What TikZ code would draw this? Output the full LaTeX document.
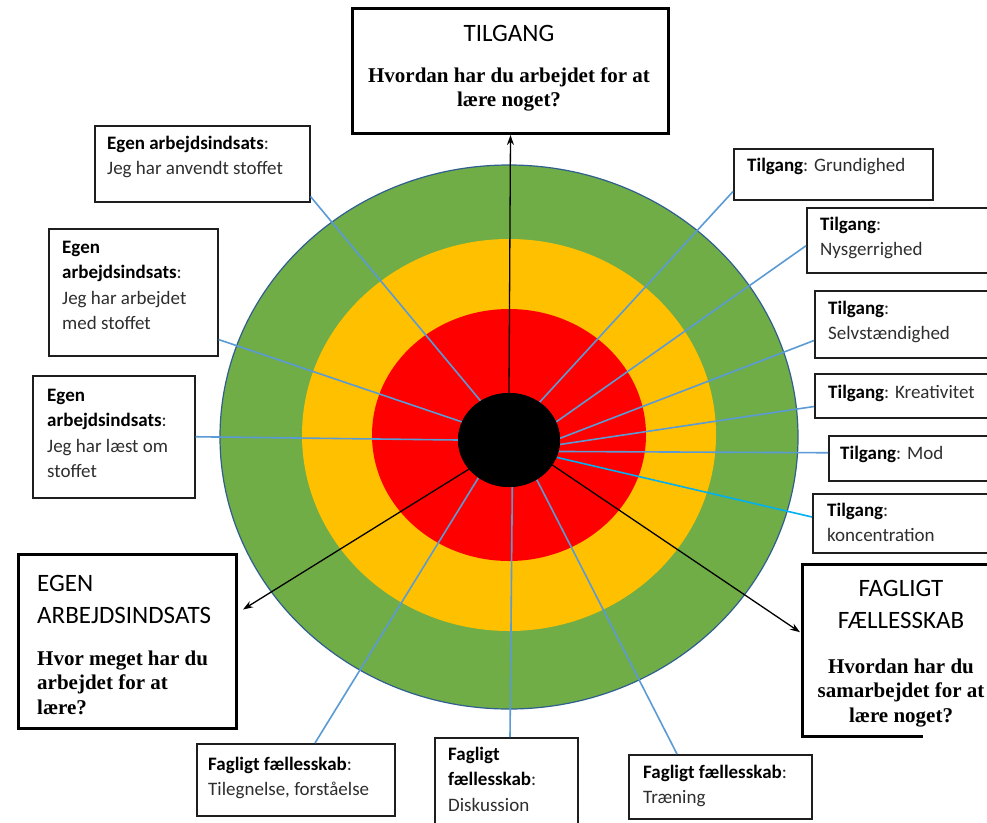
\documentclass[tikz,border=0pt]{standalone}
\usepackage{fontspec}
\setmainfont{Carlito}
\newfontfamily\serifbf{Liberation Serif}
\usetikzlibrary{arrows.meta,shapes.geometric}
\definecolor{ringgreen}{HTML}{70AD47}
\definecolor{ringyellow}{HTML}{FFC000}
\definecolor{ringred}{HTML}{FF0000}
\definecolor{ringedge}{HTML}{2F5F8F}
\definecolor{lineblue}{HTML}{5B9BD5}
\definecolor{linecyan}{HTML}{00B0F0}
\definecolor{txtgray}{HTML}{2E2E2E}
\definecolor{boxgray}{HTML}{1E1E1E}
\newcommand\bk[1]{\textcolor{black}{\bfseries #1}}
\newcommand\tl[1]{\begin{tabular}[t]{@{}l@{}}#1\end{tabular}}
\newcommand\tc[1]{\begin{tabular}[t]{@{}c@{}}#1\end{tabular}}
\tikzset{
  sbox/.style={draw=boxgray, line width=1.5pt, fill=white, inner sep=0pt, anchor=north west},
  bbox/.style={draw=black, line width=3pt, fill=white, inner sep=0pt, anchor=north west},
  stxt/.style={anchor=base west, inner sep=0pt, font=\fontsize{19}{25.5}\selectfont, text=txtgray},
  htxt/.style={inner sep=0pt, font=\fontsize{25}{32}\selectfont, text=black},
  qtxt/.style={inner sep=0pt, font=\serifbf\bfseries\fontsize{21}{24.5}\selectfont, text=black},
  conn/.style={draw=lineblue, line width=1.6pt},
  arr/.style={draw=black, line width=1.3pt, -{Stealth[length=10pt,width=7pt]}},
}
\begin{document}
\begin{tikzpicture}[x=1pt,y=-1pt]
\clip (0,0) rectangle (987,822);
\fill[white] (0,0) rectangle (987,822);
% rings
\filldraw[fill=ringgreen, draw=ringedge, line width=1.2pt] (509,437) ellipse [x radius=289pt, y radius=272pt];
\fill[ringyellow] (509,435) ellipse [x radius=207pt, y radius=196pt];
\fill[ringred] (509,435) ellipse [x radius=137pt, y radius=126pt];
% hub
\node[ellipse, fill=black, minimum width=102pt, minimum height=94pt, inner sep=0pt] (hub) at (509,440) {};
% boxes
\node[bbox, minimum width=316pt, minimum height=125pt] (tb) at (351,7) {};
\node[bbox, minimum width=218pt, minimum height=174pt] (eb) at (17,553) {};
\node[inner sep=0pt, anchor=north west, minimum width=230pt, minimum height=172pt] (fb) at (802,564) {};
\draw[black, line width=3pt] (fb.north east) -- (fb.north west) -- (fb.south west) -- ++(121,0);

\node[sbox, minimum width=215pt, minimum height=76pt] (b1) at (94,125) {};
\node[sbox, minimum width=169pt, minimum height=127pt] (b2) at (48,228) {};
\node[sbox, minimum width=162pt, minimum height=122pt] (b3) at (32,375) {};
\node[sbox, minimum width=199pt, minimum height=51pt] (g1) at (733,148) {};
\node[sbox, minimum width=200pt, minimum height=65pt] (g2) at (806,207) {};
\node[sbox, minimum width=200pt, minimum height=67pt] (g3) at (814,290) {};
\node[sbox, minimum width=200pt, minimum height=44pt] (g4) at (814,373) {};
\node[sbox, minimum width=200pt, minimum height=45pt] (g5) at (828,435) {};
\node[sbox, minimum width=200pt, minimum height=59pt] (g6) at (812,493) {};
\node[sbox, minimum width=198pt, minimum height=72pt] (f1) at (196,743) {};
\node[sbox, minimum width=143pt, minimum height=100pt] (f2) at (434,737) {};
\node[sbox, minimum width=183pt, minimum height=64pt] (f3) at (628,754) {};

% connectors
\draw[conn] ([yshift=6pt]b1.south east) -- (hub.126);
\draw[conn] ([yshift=17pt]b2.south east) -- (hub.159);
\draw[conn] (b3.east) -- (hub.180);
\draw[conn] ([xshift=119pt]f1.north west) -- (hub.231);
\draw[conn] ([xshift=76pt]f2.north west) -- (hub.274);
\draw[conn] ([xshift=49pt]f3.north west) -- (hub.305);
\draw[conn, draw=linecyan] ([yshift=-24pt]g6.north west) -- (hub.340);
\draw[conn] ([yshift=5.5pt]g5.west) -- (hub.347);
\draw[conn] ([yshift=12pt]g4.south west) -- (hub.355);
\draw[conn] ([yshift=18pt]g3.south west) -- (hub.2);
\draw[conn] ([yshift=-5.5pt]g2.west) -- (hub.21);
\draw[conn] ([yshift=9pt]g1.south west) -- (hub.51);
\draw[arr] (hub.90) -- (tb.south);
\draw[arr] (hub.216) -- ([xshift=5pt,yshift=32pt]eb.east);
\draw[arr] (hub.330) -- ([xshift=-2pt,yshift=18pt]fb.west);
\node[ellipse, fill=black, minimum width=102pt, minimum height=94pt, inner sep=0pt] at (hub) {};

% big box texts
\node[htxt, anchor=base] (tbh) at (509,41) {TILGANG};
\node[qtxt, anchor=base] (tbq) at (509,82) {\tc{Hvordan har du arbejdet for at\\lære noget?}};
\node[htxt, anchor=base west] (ebh) at (37,591) {\tl{EGEN\\ARBEJDSINDSATS}};
\node[qtxt, anchor=base west] (ebq) at (37,665) {\tl{Hvor meget har du\\arbejdet for at\\lære?}};
\node[htxt, anchor=base] (fbh) at (901,596) {\tc{FAGLIGT\\FÆLLESSKAB}};
\node[qtxt, anchor=base] (fbq) at (901,673) {\tc{Hvordan har du\\samarbejdet for at\\lære noget?}};

% small box texts
\node[stxt] (b1t) at (107,149) {\tl{\bk{Egen arbejdsindsats}:\\Jeg har anvendt stoffet}};
\node[stxt] (b2t) at (62,253) {\tl{\bk{Egen}\\\bk{arbejdsindsats}:\\Jeg har arbejdet\\med stoffet}};
\node[stxt] (b3t) at (47,401) {\tl{\bk{Egen}\\\bk{arbejdsindsats}:\\Jeg har læst om\\stoffet}};
\node[stxt] (g1t) at (747,171) {\bk{Tilgang}: Grundighed};
\node[stxt] (g2t) at (820,230) {\tl{\bk{Tilgang}:\\Nysgerrighed}};
\node[stxt] (g3t) at (828,314) {\tl{\bk{Tilgang}:\\Selvstændighed}};
\node[stxt] (g4t) at (828,398) {\bk{Tilgang}: Kreativitet};
\node[stxt] (g5t) at (840,459) {\bk{Tilgang}: Mod};
\node[stxt] (g6t) at (827,516) {\tl{\bk{Tilgang}:\\koncentration}};
\node[stxt] (f1t) at (208,770) {\tl{\bk{Fagligt fællesskab}:\\Tilegnelse, forståelse}};
\node[stxt] (f2t) at (448,760) {\tl{\bk{Fagligt}\\\bk{fællesskab}:\\Diskussion}};
\node[stxt] (f3t) at (643,778) {\tl{\bk{Fagligt fællesskab}:\\Træning}};
\end{tikzpicture}
\end{document}
